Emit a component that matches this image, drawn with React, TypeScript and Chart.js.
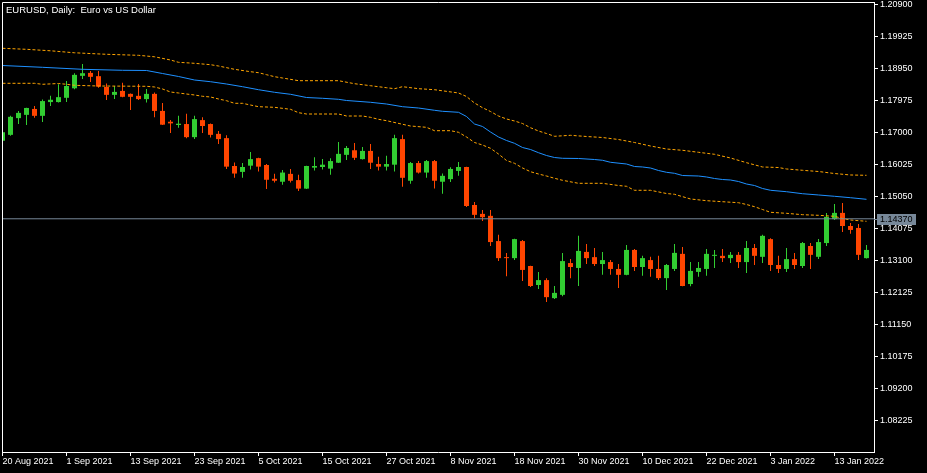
import React, { useEffect, useRef } from "react";
import { Chart, registerables } from "chart.js";

Chart.register(...registerables);

// Trading days (categories)
const monthDays: [string, number[]][] = [
  ["Aug 2021", [20, 23, 24, 25, 26, 27, 30, 31]],
  ["Sep 2021", [1, 2, 3, 6, 7, 8, 9, 10, 13, 14, 15, 16, 17, 20, 21, 22, 23, 24, 27, 28, 29, 30]],
  ["Oct 2021", [1, 4, 5, 6, 7, 8, 11, 12, 13, 14, 15, 18, 19, 20, 21, 22, 25, 26, 27, 28, 29]],
  ["Nov 2021", [1, 2, 3, 4, 5, 8, 9, 10, 11, 12, 15, 16, 17, 18, 19, 22, 23, 24, 25, 26, 29, 30]],
  ["Dec 2021", [1, 2, 3, 6, 7, 8, 9, 10, 13, 14, 15, 16, 17, 20, 21, 22, 23, 24, 27, 28, 29, 30, 31]],
  ["Jan 2022", [3, 4, 5, 6, 7, 10, 11, 12, 13, 14, 17, 18, 19]],
];
const dates: string[] = [];
monthDays.forEach(([m, days]) => days.forEach((d) => dates.push(`${d} ${m}`)));

const opens = [
  1.1675, 1.1693, 1.1744, 1.1754, 1.1772, 1.1751, 1.1793, 1.1793, 1.1806, 1.1835,
  1.1873, 1.1882, 1.1872, 1.1839, 1.1815, 1.1827, 1.1818, 1.1812, 1.1802, 1.1818,
  1.1766, 1.1733, 1.1723, 1.1726, 1.1686, 1.1738, 1.1726, 1.1696, 1.1683, 1.1598,
  1.1580, 1.1599, 1.1622, 1.1601, 1.1559, 1.1550, 1.1574, 1.1555, 1.1529, 1.1593,
  1.1595, 1.1590, 1.1608, 1.1632, 1.1646, 1.1619, 1.1644, 1.1604, 1.1596, 1.1602,
  1.1680, 1.1553, 1.1607, 1.1578, 1.1613, 1.1550, 1.1558, 1.1583, 1.1595, 1.1479,
  1.1452, 1.1446, 1.1369, 1.1320, 1.1317, 1.1369, 1.1293, 1.1235, 1.1250, 1.1195,
  1.1205, 1.1302, 1.1287, 1.1336, 1.1320, 1.1299, 1.1305, 1.1284, 1.1266, 1.1342,
  1.1290, 1.1311, 1.1284, 1.1256, 1.1284, 1.1330, 1.1238, 1.1275, 1.1284, 1.1324,
  1.1324, 1.1317, 1.1327, 1.1305, 1.1348, 1.1321, 1.1375, 1.1296, 1.1284, 1.1314,
  1.1293, 1.1354, 1.1321, 1.1363, 1.1436, 1.1455, 1.1415, 1.1409, 1.1317,
];
const highs = [
  1.1705, 1.1751, 1.1766, 1.1776, 1.1781, 1.1801, 1.1812, 1.1847, 1.1857, 1.1881,
  1.1909, 1.1888, 1.1888, 1.1850, 1.1842, 1.1852, 1.1819, 1.1848, 1.1833, 1.1822,
  1.1790, 1.1738, 1.1751, 1.1757, 1.1751, 1.1747, 1.1728, 1.1705, 1.1692, 1.1609,
  1.1607, 1.1641, 1.1623, 1.1604, 1.1574, 1.1586, 1.1589, 1.1571, 1.1599, 1.1625,
  1.1619, 1.1622, 1.1671, 1.1659, 1.1668, 1.1656, 1.1665, 1.1626, 1.1629, 1.1693,
  1.1693, 1.1610, 1.1613, 1.1616, 1.1616, 1.1575, 1.1594, 1.1610, 1.1596, 1.1488,
  1.1464, 1.1464, 1.1388, 1.1333, 1.1376, 1.1372, 1.1294, 1.1275, 1.1256, 1.1232,
  1.1333, 1.1314, 1.1385, 1.1360, 1.1348, 1.1336, 1.1311, 1.1299, 1.1357, 1.1345,
  1.1324, 1.1321, 1.1324, 1.1299, 1.1360, 1.1351, 1.1305, 1.1305, 1.1345, 1.1342,
  1.1345, 1.1336, 1.1336, 1.1369, 1.1360, 1.1388, 1.1378, 1.1324, 1.1348, 1.1333,
  1.1366, 1.1363, 1.1375, 1.1455, 1.1482, 1.1485, 1.1424, 1.1421, 1.1357,
];
const lows = [
  1.1671, 1.1690, 1.1726, 1.1723, 1.1745, 1.1732, 1.1781, 1.1792, 1.1793, 1.1832,
  1.1863, 1.1854, 1.1837, 1.1799, 1.1802, 1.1808, 1.1769, 1.1799, 1.1792, 1.1747,
  1.1723, 1.1699, 1.1715, 1.1683, 1.1680, 1.1699, 1.1685, 1.1665, 1.1589, 1.1562,
  1.1562, 1.1587, 1.1581, 1.1528, 1.1548, 1.1541, 1.1548, 1.1522, 1.1528, 1.1584,
  1.1587, 1.1571, 1.1607, 1.1616, 1.1616, 1.1618, 1.1589, 1.1584, 1.1584, 1.1581,
  1.1535, 1.1544, 1.1575, 1.1562, 1.1529, 1.1513, 1.1549, 1.1568, 1.1473, 1.1439,
  1.1430, 1.1354, 1.1308, 1.1262, 1.1311, 1.1247, 1.1229, 1.1223, 1.1183, 1.1192,
  1.1201, 1.1256, 1.1232, 1.1299, 1.1293, 1.1266, 1.1266, 1.1226, 1.1265, 1.1278,
  1.1263, 1.1260, 1.1250, 1.1220, 1.1278, 1.1231, 1.1231, 1.1260, 1.1263, 1.1287,
  1.1305, 1.1302, 1.1287, 1.1272, 1.1296, 1.1302, 1.1278, 1.1272, 1.1275, 1.1284,
  1.1287, 1.1284, 1.1314, 1.1354, 1.1433, 1.1397, 1.1391, 1.1311, 1.1316,
];
const closes = [
  1.1701, 1.1748, 1.1760, 1.1775, 1.1751, 1.1796, 1.1800, 1.1808, 1.1842, 1.1876,
  1.1881, 1.1870, 1.1840, 1.1815, 1.1824, 1.1809, 1.1809, 1.1802, 1.1818, 1.1766,
  1.1724, 1.1728, 1.1727, 1.1686, 1.1741, 1.1720, 1.1693, 1.1680, 1.1596, 1.1575,
  1.1595, 1.1619, 1.1596, 1.1556, 1.1553, 1.1578, 1.1553, 1.1529, 1.1598, 1.1598,
  1.1602, 1.1613, 1.1635, 1.1653, 1.1623, 1.1644, 1.1608, 1.1596, 1.1604, 1.1683,
  1.1562, 1.1607, 1.1578, 1.1613, 1.1553, 1.1568, 1.1589, 1.1595, 1.1476, 1.1449,
  1.1442, 1.1366, 1.1317, 1.1317, 1.1375, 1.1281, 1.1232, 1.1250, 1.1198, 1.1211,
  1.1308, 1.1290, 1.1339, 1.1317, 1.1299, 1.1311, 1.1284, 1.1266, 1.1342, 1.1290,
  1.1317, 1.1284, 1.1256, 1.1296, 1.1333, 1.1232, 1.1278, 1.1287, 1.1330, 1.1327,
  1.1317, 1.1327, 1.1305, 1.1348, 1.1324, 1.1385, 1.1296, 1.1284, 1.1314, 1.1296,
  1.1363, 1.1327, 1.1366, 1.1443, 1.1455, 1.1415, 1.1403, 1.1327, 1.1342,
];

// Moving average (blue) read at these bar positions
const maBars = [0, 5, 10, 15, 18, 20, 22, 24, 26, 28, 30, 32, 34, 36, 38, 40, 42, 43, 46, 48, 50, 52, 54, 55, 57, 58, 59, 60, 61, 62, 63, 64, 65, 66, 67, 68, 69, 70, 72, 74, 75, 76, 78, 79, 80, 81, 82, 83, 84, 85, 87, 88, 89, 90, 91, 92, 93, 94, 95, 96, 98, 100, 102, 104, 106, 108];
const maValues = [1.19045, 1.1899, 1.18929, 1.18899, 1.18893, 1.18801, 1.1871, 1.18603, 1.18551, 1.18481, 1.18399, 1.18307, 1.18228, 1.18167, 1.18069, 1.18045, 1.18014, 1.17978, 1.17923, 1.17871, 1.17789, 1.17749, 1.17679, 1.17648, 1.17618, 1.1749, 1.17261, 1.17185, 1.17017, 1.16865, 1.16758, 1.16672, 1.16544, 1.16483, 1.16386, 1.163, 1.16239, 1.16215, 1.16209, 1.16178, 1.16154, 1.16093, 1.16041, 1.15965, 1.1595, 1.15919, 1.15843, 1.15788, 1.15757, 1.1569, 1.15675, 1.15645, 1.15599, 1.15568, 1.15553, 1.15507, 1.15431, 1.15385, 1.15294, 1.15239, 1.15196, 1.15135, 1.15096, 1.15056, 1.15013, 1.14964];

// Upper envelope (orange dotted)
const upperBars = [0, 3, 6, 9, 13, 17, 19, 21, 22, 24, 26, 27, 29, 31, 32, 33, 34, 35, 37, 42, 44, 46, 48, 49, 50, 52, 54, 57, 58, 59, 60, 61, 62, 63, 64, 65, 66, 67, 68, 69, 71, 73, 75, 77, 79, 81, 83, 85, 87, 89, 91, 93, 95, 97, 98, 100, 102, 104, 106, 108];
const upperValues = [1.1957, 1.19539, 1.19494, 1.19433, 1.19387, 1.19356, 1.19311, 1.19213, 1.19143, 1.19112, 1.1907, 1.1903, 1.18929, 1.18856, 1.18826, 1.18765, 1.18704, 1.18664, 1.18582, 1.18582, 1.1849, 1.18429, 1.18368, 1.18338, 1.18399, 1.18338, 1.18307, 1.18207, 1.181, 1.17902, 1.17758, 1.17642, 1.17505, 1.17414, 1.17353, 1.17276, 1.17148, 1.17047, 1.16971, 1.16886, 1.16916, 1.1688, 1.16849, 1.16788, 1.16697, 1.1659, 1.16498, 1.16459, 1.16398, 1.16337, 1.16224, 1.16081, 1.1595, 1.15934, 1.15889, 1.15849, 1.15812, 1.15751, 1.15706, 1.15696];

// Lower envelope (orange dotted)
const lowerBars = [0, 4, 5, 7, 8, 9, 12, 18, 19, 20, 21, 22, 23, 24, 25, 26, 27, 28, 29, 30, 31, 32, 34, 36, 37, 38, 42, 43, 45, 46, 47, 48, 50, 51, 53, 54, 56, 57, 58, 59, 60, 61, 62, 63, 64, 65, 66, 67, 68, 69, 70, 72, 75, 77, 78, 79, 81, 83, 84, 86, 88, 90, 92, 93, 94, 95, 96, 98, 99, 100, 102, 104, 105, 106, 108];
const lowerValues = [1.18502, 1.18502, 1.18472, 1.18496, 1.18472, 1.18441, 1.1842, 1.18411, 1.1839, 1.18329, 1.18237, 1.18207, 1.18176, 1.18146, 1.18106, 1.18085, 1.18024, 1.17972, 1.17892, 1.17892, 1.1784, 1.17789, 1.1777, 1.17709, 1.17606, 1.17566, 1.17566, 1.17505, 1.17505, 1.17465, 1.17404, 1.17362, 1.17252, 1.172, 1.1716, 1.17057, 1.17057, 1.17008, 1.16865, 1.16697, 1.1662, 1.1652, 1.16346, 1.16148, 1.16062, 1.1592, 1.15806, 1.15736, 1.15675, 1.15605, 1.15544, 1.15452, 1.15452, 1.15385, 1.15361, 1.15239, 1.15239, 1.15141, 1.15117, 1.14974, 1.14922, 1.14891, 1.1486, 1.14806, 1.14739, 1.14653, 1.14568, 1.14537, 1.14516, 1.14495, 1.14476, 1.14446, 1.14379, 1.14333, 1.14293];

const priceLevel = 1.1437;
const yTicks = [1.209, 1.19925, 1.1895, 1.17975, 1.17, 1.16025, 1.1505, 1.14075, 1.131, 1.12125, 1.1115, 1.10175, 1.092, 1.08225];
const xTickBars = [0, 8, 16, 24, 32, 40, 48, 56, 64, 72, 80, 88, 96, 104];
const title = "EURUSD, Daily:  Euro vs US Dollar";

const X_MIN = -0.0625;
const X_MAX = 108.9375;
const Y_MIN = 1.07257;
const Y_MAX = 1.20982;
const FONT = "'Liberation Sans', Arial, sans-serif";

export default function App() {
  const ref = useRef<HTMLCanvasElement>(null);

  useEffect(() => {
    const canvas = ref.current;
    if (!canvas) return;
    const up = "#32CD32";
    const down = "#FF4500";
    const colors = opens.map((o, i) => (closes[i] >= o ? up : down));
    const bodies = opens.map((o, i) => ({ x: i, y: [o, closes[i]] }));
    const wicks = lows.map((l, i) => ({ x: i, y: [l, highs[i]] }));
    const pts = (bars: number[], vals: number[]) => bars.map((b, k) => ({ x: b, y: vals[k] }));

    const decor = {
      id: "mtDecor",
      afterDraw(chart: any) {
        const { ctx, chartArea } = chart;
        const a = chartArea;
        ctx.save();
        ctx.strokeStyle = "#ffffff";
        ctx.lineWidth = 1;
        ctx.beginPath();
        ctx.moveTo(a.left + 0.5, a.bottom);
        ctx.lineTo(a.left + 0.5, a.top + 0.5);
        ctx.lineTo(a.right, a.top + 0.5);
        ctx.stroke();
        // title
        ctx.fillStyle = "#ffffff";
        ctx.font = `9.5px ${FONT}`;
        ctx.textBaseline = "middle";
        ctx.textAlign = "left";
        ctx.fillText(title, 6, 10);
        // price label
        const y = Math.round(chart.scales.y.getPixelForValue(priceLevel));
        ctx.strokeStyle = "#778899";
        ctx.beginPath();
        ctx.moveTo(a.right, y + 0.5);
        ctx.lineTo(a.right + 3, y + 0.5);
        ctx.stroke();
        ctx.fillStyle = "#778899";
        ctx.fillRect(a.right + 3, y - 5, 39, 11);
        ctx.fillStyle = "#000000";
        ctx.font = `9px ${FONT}`;
        ctx.fillText(priceLevel.toFixed(5), a.right + 6, y + 1);
        ctx.restore();
      },
    };

    const chart = new Chart(canvas, {
      type: "bar",
      data: {
        datasets: [
          {
            type: "line",
            data: [{ x: X_MIN, y: priceLevel }, { x: X_MAX, y: priceLevel }],
            borderColor: "#778899",
            borderWidth: 1,
            pointRadius: 0,
          },
          {
            type: "line",
            data: pts(maBars, maValues),
            borderColor: "#1E90FF",
            borderWidth: 1,
            pointRadius: 0,
            tension: 0,
          },
          {
            type: "line",
            data: pts(upperBars, upperValues),
            borderColor: "#FFA500",
            borderWidth: 1,
            borderDash: [3, 2],
            pointRadius: 0,
            tension: 0,
          },
          {
            type: "line",
            data: pts(lowerBars, lowerValues),
            borderColor: "#FFA500",
            borderWidth: 1,
            borderDash: [3, 2],
            pointRadius: 0,
            tension: 0,
          },
          {
            type: "bar",
            data: bodies as any,
            backgroundColor: colors,
            barThickness: 5,
            grouped: false,
            minBarLength: 1,
            inflateAmount: 0,
            borderWidth: 0,
          },
          {
            type: "bar",
            data: wicks as any,
            backgroundColor: colors,
            barThickness: 1,
            grouped: false,
            inflateAmount: 0,
            borderWidth: 0,
          },
        ] as any,
      },
      options: {
        responsive: false,
        animation: false,
        devicePixelRatio: 1,
        events: [],
        layout: { padding: { left: 2, top: 2, right: 0, bottom: 0 } },
        plugins: {
          legend: { display: false },
          tooltip: { enabled: false },
          title: { display: false },
        },
        scales: {
          x: {
            type: "linear",
            min: X_MIN,
            max: X_MAX,
            offset: false,
            afterBuildTicks: (s: any) => {
              s.ticks = xTickBars.map((v) => ({ value: v }));
            },
            afterFit: (s: any) => {
              s.height = 21;
              s.paddingLeft = 0;
              s.paddingRight = 0;
            },
            grid: {
              display: true,
              offset: false,
              drawOnChartArea: false,
              drawTicks: true,
              tickLength: 4,
              color: "#ffffff",
              lineWidth: 1,
            },
            border: { display: true, color: "#ffffff", width: 1 },
            ticks: {
              color: "#ffffff",
              font: { family: FONT, size: 9 },
              align: "start",
              maxRotation: 0,
              minRotation: 0,
              autoSkip: false,
              padding: 0,
              callback: (v: any) => dates[Math.round(Number(v))] ?? "",
            },
          },
          y: {
            type: "linear",
            position: "right",
            min: Y_MIN,
            max: Y_MAX,
            afterBuildTicks: (s: any) => {
              s.ticks = yTicks.map((v) => ({ value: v }));
            },
            afterFit: (s: any) => {
              s.width = 53;
              s.paddingTop = 0;
              s.paddingBottom = 0;
            },
            grid: {
              display: true,
              drawOnChartArea: false,
              drawTicks: true,
              tickLength: 4,
              color: "#ffffff",
              lineWidth: 1,
            },
            border: { display: true, color: "#ffffff", width: 1 },
            ticks: {
              color: "#ffffff",
              font: { family: FONT, size: 9 },
              padding: 2,
              autoSkip: false,
              callback: (v: any) => Number(v).toFixed(5),
            },
          },
        },
      } as any,
      plugins: [decor],
    });

    return () => chart.destroy();
  }, []);

  return (
    <canvas
      ref={ref}
      width={927}
      height={473}
      style={{ position: "absolute", left: 0, top: 0, display: "block", background: "#000000" }}
    />
  );
}
